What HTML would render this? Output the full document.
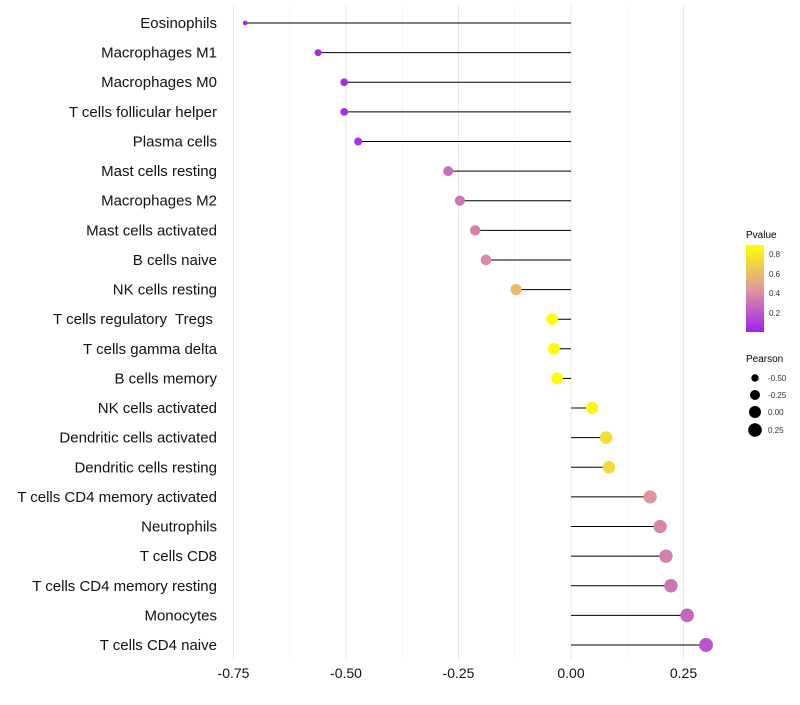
<!DOCTYPE html>
<html><head><meta charset="utf-8"><style>
body{margin:0;background:#fff;font-family:"Liberation Sans",sans-serif}
#labels text{white-space:pre}
</style></head><body>
<svg id="c" width="800" height="700" xmlns="http://www.w3.org/2000/svg">
<defs><linearGradient id="pg" x1="0" y1="1" x2="0" y2="0">
<stop offset="0" stop-color="#A020F0"/><stop offset="0.5" stop-color="#E09A9A"/><stop offset="1" stop-color="#FFFF00"/></linearGradient></defs>
<g id="grid"></g><g id="marks"></g><g id="labels"></g><g id="ticks"></g>
<g>
<text x="746" y="238" font-size="10">Pvalue</text>
<rect x="746" y="245" width="18" height="87" fill="url(#pg)"/>
<g font-size="8" fill="#333"><text x="769" y="257">0.8</text><text x="769" y="277">0.6</text><text x="769" y="296">0.4</text><text x="769" y="316">0.2</text></g>
</g>
<g>
<text x="746" y="362" font-size="10">Pearson</text>
<circle cx="755" cy="378" r="3.7"/><circle cx="755" cy="395" r="5"/><circle cx="755" cy="412" r="6"/><circle cx="755" cy="430" r="6.8"/>
<g font-size="8" fill="#333"><text x="768" y="381">-0.50</text><text x="768" y="398">-0.25</text><text x="768" y="415">0.00</text><text x="768" y="433">0.25</text></g>
</g>
</svg>
<script>
const cells=["Eosinophils","Macrophages M1","Macrophages M0","T cells follicular helper","Plasma cells","Mast cells resting","Macrophages M2","Mast cells activated","B cells naive","NK cells resting","T cells regulatory  Tregs ","T cells gamma delta","B cells memory","NK cells activated","Dendritic cells activated","Dendritic cells resting","T cells CD4 memory activated","Neutrophils","T cells CD8","T cells CD4 memory resting","Monocytes","T cells CD4 naive"];
const pearson=[-0.724,-0.562,-0.504,-0.504,-0.473,-0.273,-0.247,-0.213,-0.189,-0.122,-0.042,-0.038,-0.031,0.047,0.078,0.084,0.176,0.198,0.211,0.222,0.258,0.300];
const pvalue=[0.01,0.05,0.06,0.06,0.08,0.3,0.33,0.38,0.42,0.6,0.89,0.89,0.88,0.86,0.75,0.73,0.45,0.4,0.37,0.33,0.27,0.2];
const xTicks=[-0.75,-0.5,-0.25,0,0.25];
const xTickLabels=["-0.75","-0.50","-0.25","0.00","0.25"];
const NS="http://www.w3.org/2000/svg";
const xs=v=>571+v*450;
const ys=i=>23+i*(622/21);
function mk(t,a,p){const e=document.createElementNS(NS,t);for(const k in a)e.setAttribute(k,a[k]);document.getElementById(p).appendChild(e);return e;}
function lerp(a,b,t){return a.map((v,i)=>Math.round(v+(b[i]-v)*t));}
function col(p){let t=(p-0.006)/(0.89-0.006);t=Math.max(0,Math.min(1,t));
const A=[160,32,240],M=[222,148,160],B=[255,255,0];
const c=t<0.5?lerp(A,M,t*2):lerp(M,B,(t-0.5)*2);return `rgb(${c})`;}
for(let k=0;k<9;k++){const v=-0.75+k*0.125;const g=mk('line',{x1:xs(v),x2:xs(v),y1:5,y2:660,stroke:k%2?'#f2f2f2':'#e8e8e8','stroke-width':k%2?0.6:1},'grid');

}
cells.forEach((c,i)=>{
const y=ys(i);
const l=mk('line',{x1:xs(0),x2:xs(pearson[i]),y1:y,y2:y,stroke:'#000','stroke-width':1},'marks');


const r=Math.sqrt(Math.max(2,36+42*pearson[i]));
const d=mk('circle',{cx:xs(pearson[i]),cy:y,r:r,fill:col(pvalue[i])},'marks');


const t=mk('text',{x:217,y:y+5,'text-anchor':'end','font-size':15,fill:'#111'},'labels');
t.textContent=c;


});
xTicks.forEach((v,i)=>{const t=mk('text',{x:xs(v),y:678,'text-anchor':'middle','font-size':14,fill:'#111'},'ticks');
t.textContent=xTickLabels[i];

});
</script>
</body></html>
